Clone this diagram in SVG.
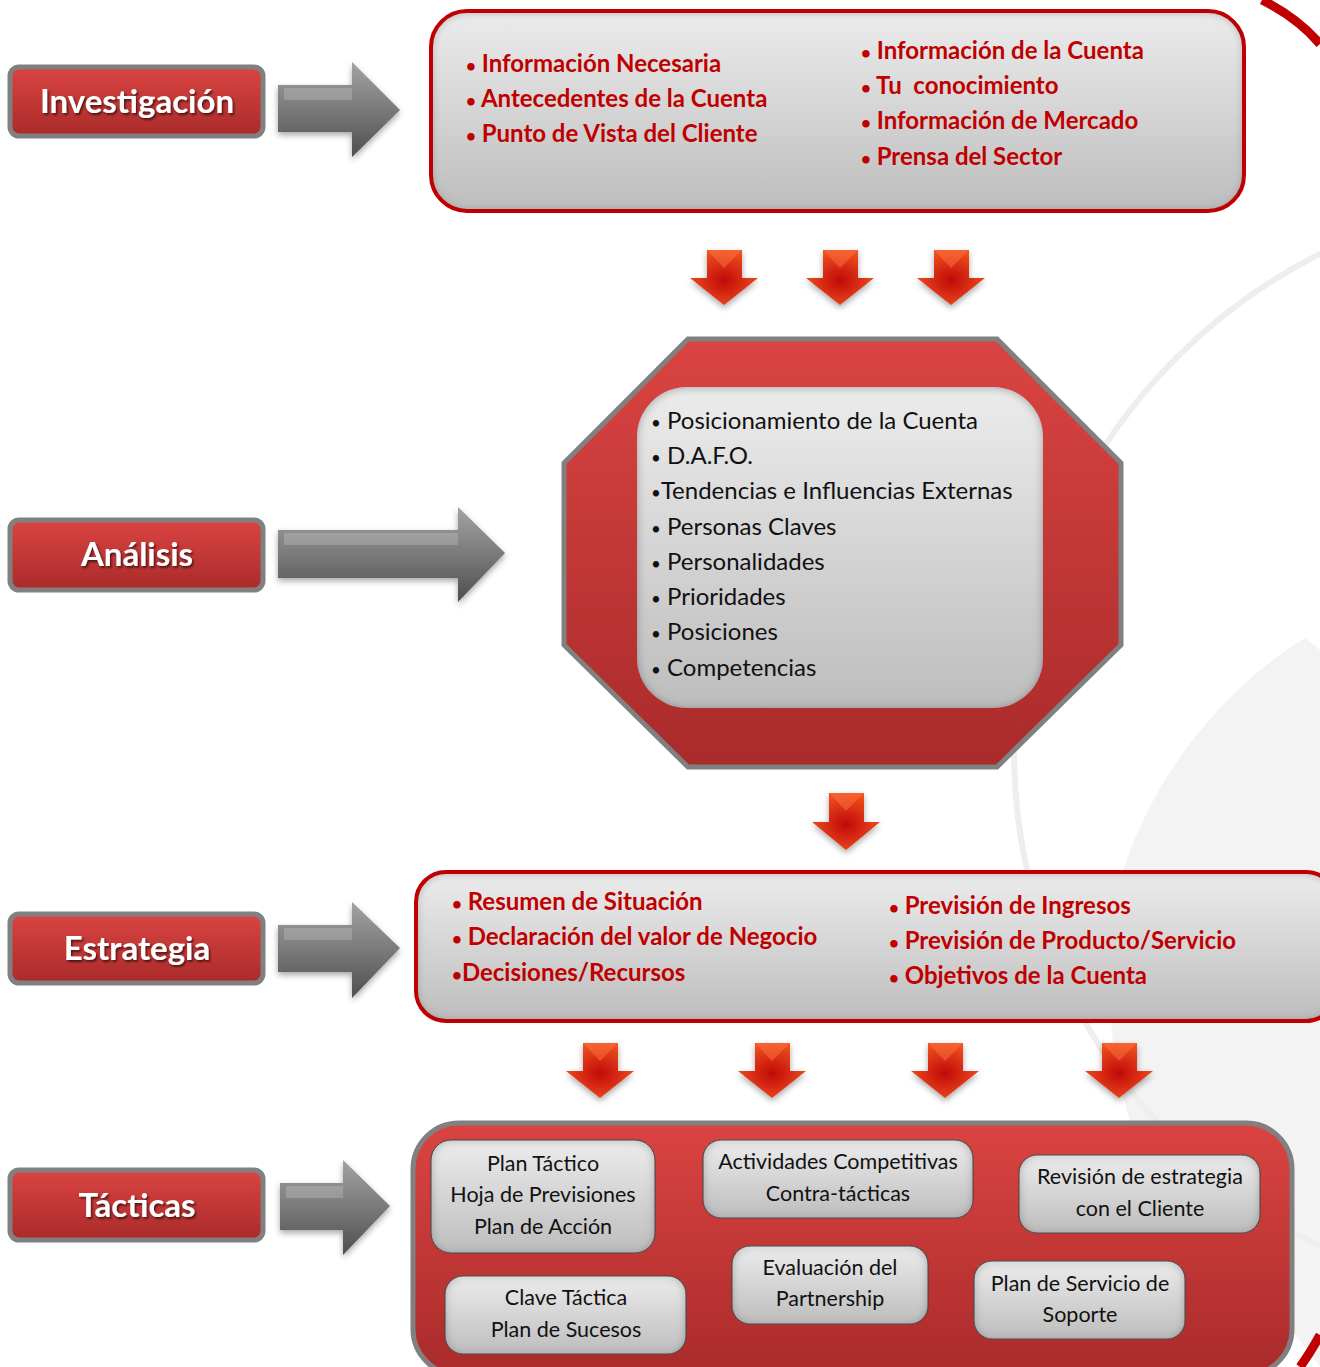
<svg xmlns="http://www.w3.org/2000/svg" width="1320" height="1367" viewBox="0 0 1320 1367">
<defs>
<style>
.lbl{font-family:Lato,"Liberation Sans",sans-serif;font-weight:bold;font-size:33px;fill:#fff;text-anchor:middle;filter:url(#tsh)}
.rt{font-family:Lato,"Liberation Sans",sans-serif;font-weight:bold;font-size:24px;fill:#c00000}
.bt{font-family:Lato,"Liberation Sans",sans-serif;font-size:24px;fill:#111}
.st{font-family:Lato,"Liberation Sans",sans-serif;font-size:21.5px;fill:#111;text-anchor:middle}
.b{font-size:17px}
.btn{fill:url(#gRed);stroke:#808080;stroke-width:5}
.gbox{fill:url(#gGray);filter:url(#inner)}
.sbox{fill:url(#gGray);filter:url(#inner);stroke:#555;stroke-width:1}
.garr{fill:url(#gArr);filter:url(#dsh)}
.rarr{fill:url(#gRA);filter:url(#dsh)}
</style>
<linearGradient id="gRed" x1="0" y1="0" x2="0" y2="1"><stop offset="0" stop-color="#da4442"/><stop offset="1" stop-color="#a92b2a"/></linearGradient>
<linearGradient id="gGray" x1="0" y1="0" x2="0" y2="1"><stop offset="0" stop-color="#ececec"/><stop offset="1" stop-color="#bdbdbd"/></linearGradient>
<linearGradient id="gArr" x1="0" y1="0" x2="0" y2="1"><stop offset="0" stop-color="#a3a3a3"/><stop offset="0.5" stop-color="#7a7a7a"/><stop offset="1" stop-color="#4e4e4e"/></linearGradient>
<radialGradient id="gRA" cx="0.5" cy="0.55" r="0.55"><stop offset="0" stop-color="#c00a0a"/><stop offset="1" stop-color="#f0501c"/></radialGradient>
<filter id="inner" x="-5%" y="-5%" width="110%" height="110%">
<feComponentTransfer in="SourceAlpha" result="inv"><feFuncA type="table" tableValues="1 0"/></feComponentTransfer>
<feGaussianBlur in="inv" stdDeviation="5" result="blur"/>
<feOffset in="blur" dx="0" dy="1" result="ob"/>
<feFlood flood-color="#000" flood-opacity="0.6" result="col"/>
<feComposite in="col" in2="ob" operator="in" result="sh"/>
<feComposite in="sh" in2="SourceAlpha" operator="in" result="ins"/>
<feMerge><feMergeNode in="SourceGraphic"/><feMergeNode in="ins"/></feMerge>
</filter>
<filter id="dsh" x="-20%" y="-20%" width="140%" height="150%"><feDropShadow dx="0" dy="3" stdDeviation="3" flood-color="#000" flood-opacity="0.35"/></filter>
<filter id="tsh" x="-10%" y="-20%" width="120%" height="150%"><feDropShadow dx="1.5" dy="2" stdDeviation="1.2" flood-color="#000" flood-opacity="0.6"/></filter>
</defs>
<rect width="1320" height="1367" fill="#fff"/>
<g id="background">
<path d="M1305,638 C1220,690 1150,780 1120,880 C1105,950 1105,1050 1130,1120 L1320,1367 L1320,650 Z" fill="#f3f3f3"/>
<circle cx="1569" cy="750" r="555" fill="none" stroke="#eeeeee" stroke-width="6"/>
<path d="M1262,0 C1290,14 1308,30 1320,44" fill="none" stroke="#c00000" stroke-width="9"/>
<path d="M1300,1367 C1308,1356 1314,1346 1320,1335" fill="none" stroke="#c00000" stroke-width="9"/>
</g>
<g id="connectors">
<g class="garr">
<polygon points="278,85 352,85 352,62 400,110 352,157 352,132 278,132"/>
<polygon points="278,530 458,530 458,507 505,553 458,602 458,578 278,578"/>
<polygon points="278,925 352,925 352,902 400,948 352,998 352,972 278,972"/>
<polygon points="280,1183 343,1183 343,1160 390,1206 343,1255 343,1230 280,1230"/>
</g>
<g fill="#ffffff" opacity="0.18">
<polygon points="284,88 352,88 352,100 284,100"/>
<polygon points="284,533 458,533 458,545 284,545"/>
<polygon points="284,928 352,928 352,940 284,940"/>
<polygon points="286,1186 343,1186 343,1198 286,1198"/>
</g>
<g class="rarr">
<polygon points="707,250 742,250 742,278 758,278 724,305 690,278 707,278"/>
<polygon points="823,250 858,250 858,278 874,278 840,305 806,278 823,278"/>
<polygon points="934,250 969,250 969,278 985,278 951,305 917,278 934,278"/>
<polygon points="829,793 864,793 864,822 880,822 846,850 812,822 829,822"/>
<polygon points="583,1043 618,1043 618,1071 634,1071 600,1098 566,1071 583,1071"/>
<polygon points="755,1043 790,1043 790,1071 806,1071 772,1098 738,1071 755,1071"/>
<polygon points="928,1043 963,1043 963,1071 979,1071 945,1098 911,1071 928,1071"/>
<polygon points="1102,1043 1137,1043 1137,1071 1153,1071 1119,1098 1085,1071 1102,1071"/>
</g>
<g fill="#ff7a4a" opacity="0.45">
<polygon points="707,250 742,250 724,268"/>
<polygon points="823,250 858,250 840,268"/>
<polygon points="934,250 969,250 951,268"/>
<polygon points="829,793 864,793 846,811"/>
<polygon points="583,1043 618,1043 600,1061"/>
<polygon points="755,1043 790,1043 772,1061"/>
<polygon points="928,1043 963,1043 945,1061"/>
<polygon points="1102,1043 1137,1043 1119,1061"/>
</g>
</g>
<g id="investigacion">
<rect class="btn" x="10" y="67" width="253" height="69" rx="9"/>
<text class="lbl" x="137" y="113">Investigación</text>
</g>
<g id="analisis">
<rect class="btn" x="10" y="520" width="253" height="70" rx="9"/>
<text class="lbl" x="137" y="566">Análisis</text>
</g>
<g id="estrategia">
<rect class="btn" x="10" y="914" width="253" height="69" rx="9"/>
<text class="lbl" x="137" y="960">Estrategia</text>
</g>
<g id="tacticas">
<rect class="btn" x="10" y="1170" width="253" height="70" rx="9"/>
<text class="lbl" x="137" y="1217">Tácticas</text>
</g>
<g id="investigacion-box">
<rect class="gbox" x="431" y="11" width="813" height="200" rx="36"/>
<rect x="431" y="11" width="813" height="200" rx="36" fill="none" stroke="#c00000" stroke-width="4"/>
<text class="rt" x="466" y="72"><tspan class="b">•</tspan> Información Necesaria</text>
<text class="rt" x="466" y="107"><tspan class="b">•</tspan> Antecedentes de la Cuenta</text>
<text class="rt" x="466" y="142"><tspan class="b">•</tspan> Punto de Vista del Cliente</text>
<text class="rt" x="861" y="59"><tspan class="b">•</tspan> Información de la Cuenta</text>
<text class="rt" x="861" y="94" xml:space="preserve"><tspan class="b">•</tspan> Tu  conocimiento</text>
<text class="rt" x="861" y="129"><tspan class="b">•</tspan> Información de Mercado</text>
<text class="rt" x="861" y="165"><tspan class="b">•</tspan> Prensa del Sector</text>
</g>
<g id="analisis-box">
<polygon points="688,339 997,339 1121,463 1121,645 997,767 688,767 564,645 564,463" fill="url(#gRed)" stroke="#808080" stroke-width="5" stroke-linejoin="miter"/>
<rect class="gbox" x="637" y="387" width="406" height="321" rx="50"/>
<text class="bt" x="651" y="429"><tspan class="b">•</tspan> Posicionamiento de la Cuenta</text>
<text class="bt" x="651" y="464"><tspan class="b">•</tspan> D.A.F.O.</text>
<text class="bt" x="651" y="499"><tspan class="b">•</tspan>Tendencias e Influencias Externas</text>
<text class="bt" x="651" y="535"><tspan class="b">•</tspan> Personas Claves</text>
<text class="bt" x="651" y="570"><tspan class="b">•</tspan> Personalidades</text>
<text class="bt" x="651" y="605"><tspan class="b">•</tspan> Prioridades</text>
<text class="bt" x="651" y="640"><tspan class="b">•</tspan> Posiciones</text>
<text class="bt" x="651" y="676"><tspan class="b">•</tspan> Competencias</text>
</g>
<g id="estrategia-box">
<rect class="gbox" x="416" y="872" width="920" height="149" rx="30"/>
<rect x="416" y="872" width="920" height="149" rx="30" fill="none" stroke="#c00000" stroke-width="4"/>
<text class="rt" x="452" y="910"><tspan class="b">•</tspan> Resumen de Situación</text>
<text class="rt" x="452" y="945"><tspan class="b">•</tspan> Declaración del valor de Negocio</text>
<text class="rt" x="452" y="981"><tspan class="b">•</tspan>Decisiones/Recursos</text>
<text class="rt" x="889" y="914"><tspan class="b">•</tspan> Previsión de Ingresos</text>
<text class="rt" x="889" y="949"><tspan class="b">•</tspan> Previsión de Producto/Servicio</text>
<text class="rt" x="889" y="984"><tspan class="b">•</tspan> Objetivos de la Cuenta</text>
</g>
<g id="tacticas-box">
<rect x="413" y="1123" width="879" height="252" rx="46" fill="url(#gRed)" stroke="#808080" stroke-width="5"/>
</g>
<g id="plan-tactico">
<rect class="sbox" x="431" y="1140" width="224" height="113" rx="20"/>
<text class="st" x="543" y="1171">Plan Táctico</text>
<text class="st" x="543" y="1202">Hoja de Previsiones</text>
<text class="st" x="543" y="1234">Plan de Acción</text>
</g>
<g id="actividades">
<rect class="sbox" x="703" y="1140" width="270" height="78" rx="18"/>
<text class="st" x="838" y="1169">Actividades Competitivas</text>
<text class="st" x="838" y="1201">Contra-tácticas</text>
</g>
<g id="revision">
<rect class="sbox" x="1019" y="1155" width="241" height="78" rx="18"/>
<text class="st" x="1140" y="1184">Revisión de estrategia</text>
<text class="st" x="1140" y="1216">con el Cliente</text>
</g>
<g id="clave-tactica">
<rect class="sbox" x="445" y="1276" width="241" height="78" rx="18"/>
<text class="st" x="566" y="1305">Clave Táctica</text>
<text class="st" x="566" y="1337">Plan de Sucesos</text>
</g>
<g id="evaluacion">
<rect class="sbox" x="732" y="1246" width="196" height="78" rx="18"/>
<text class="st" x="830" y="1275">Evaluación del</text>
<text class="st" x="830" y="1306">Partnership</text>
</g>
<g id="servicio">
<rect class="sbox" x="974" y="1261" width="211" height="78" rx="18"/>
<text class="st" x="1080" y="1291">Plan de Servicio de</text>
<text class="st" x="1080" y="1322">Soporte</text>
</g>
</svg>
